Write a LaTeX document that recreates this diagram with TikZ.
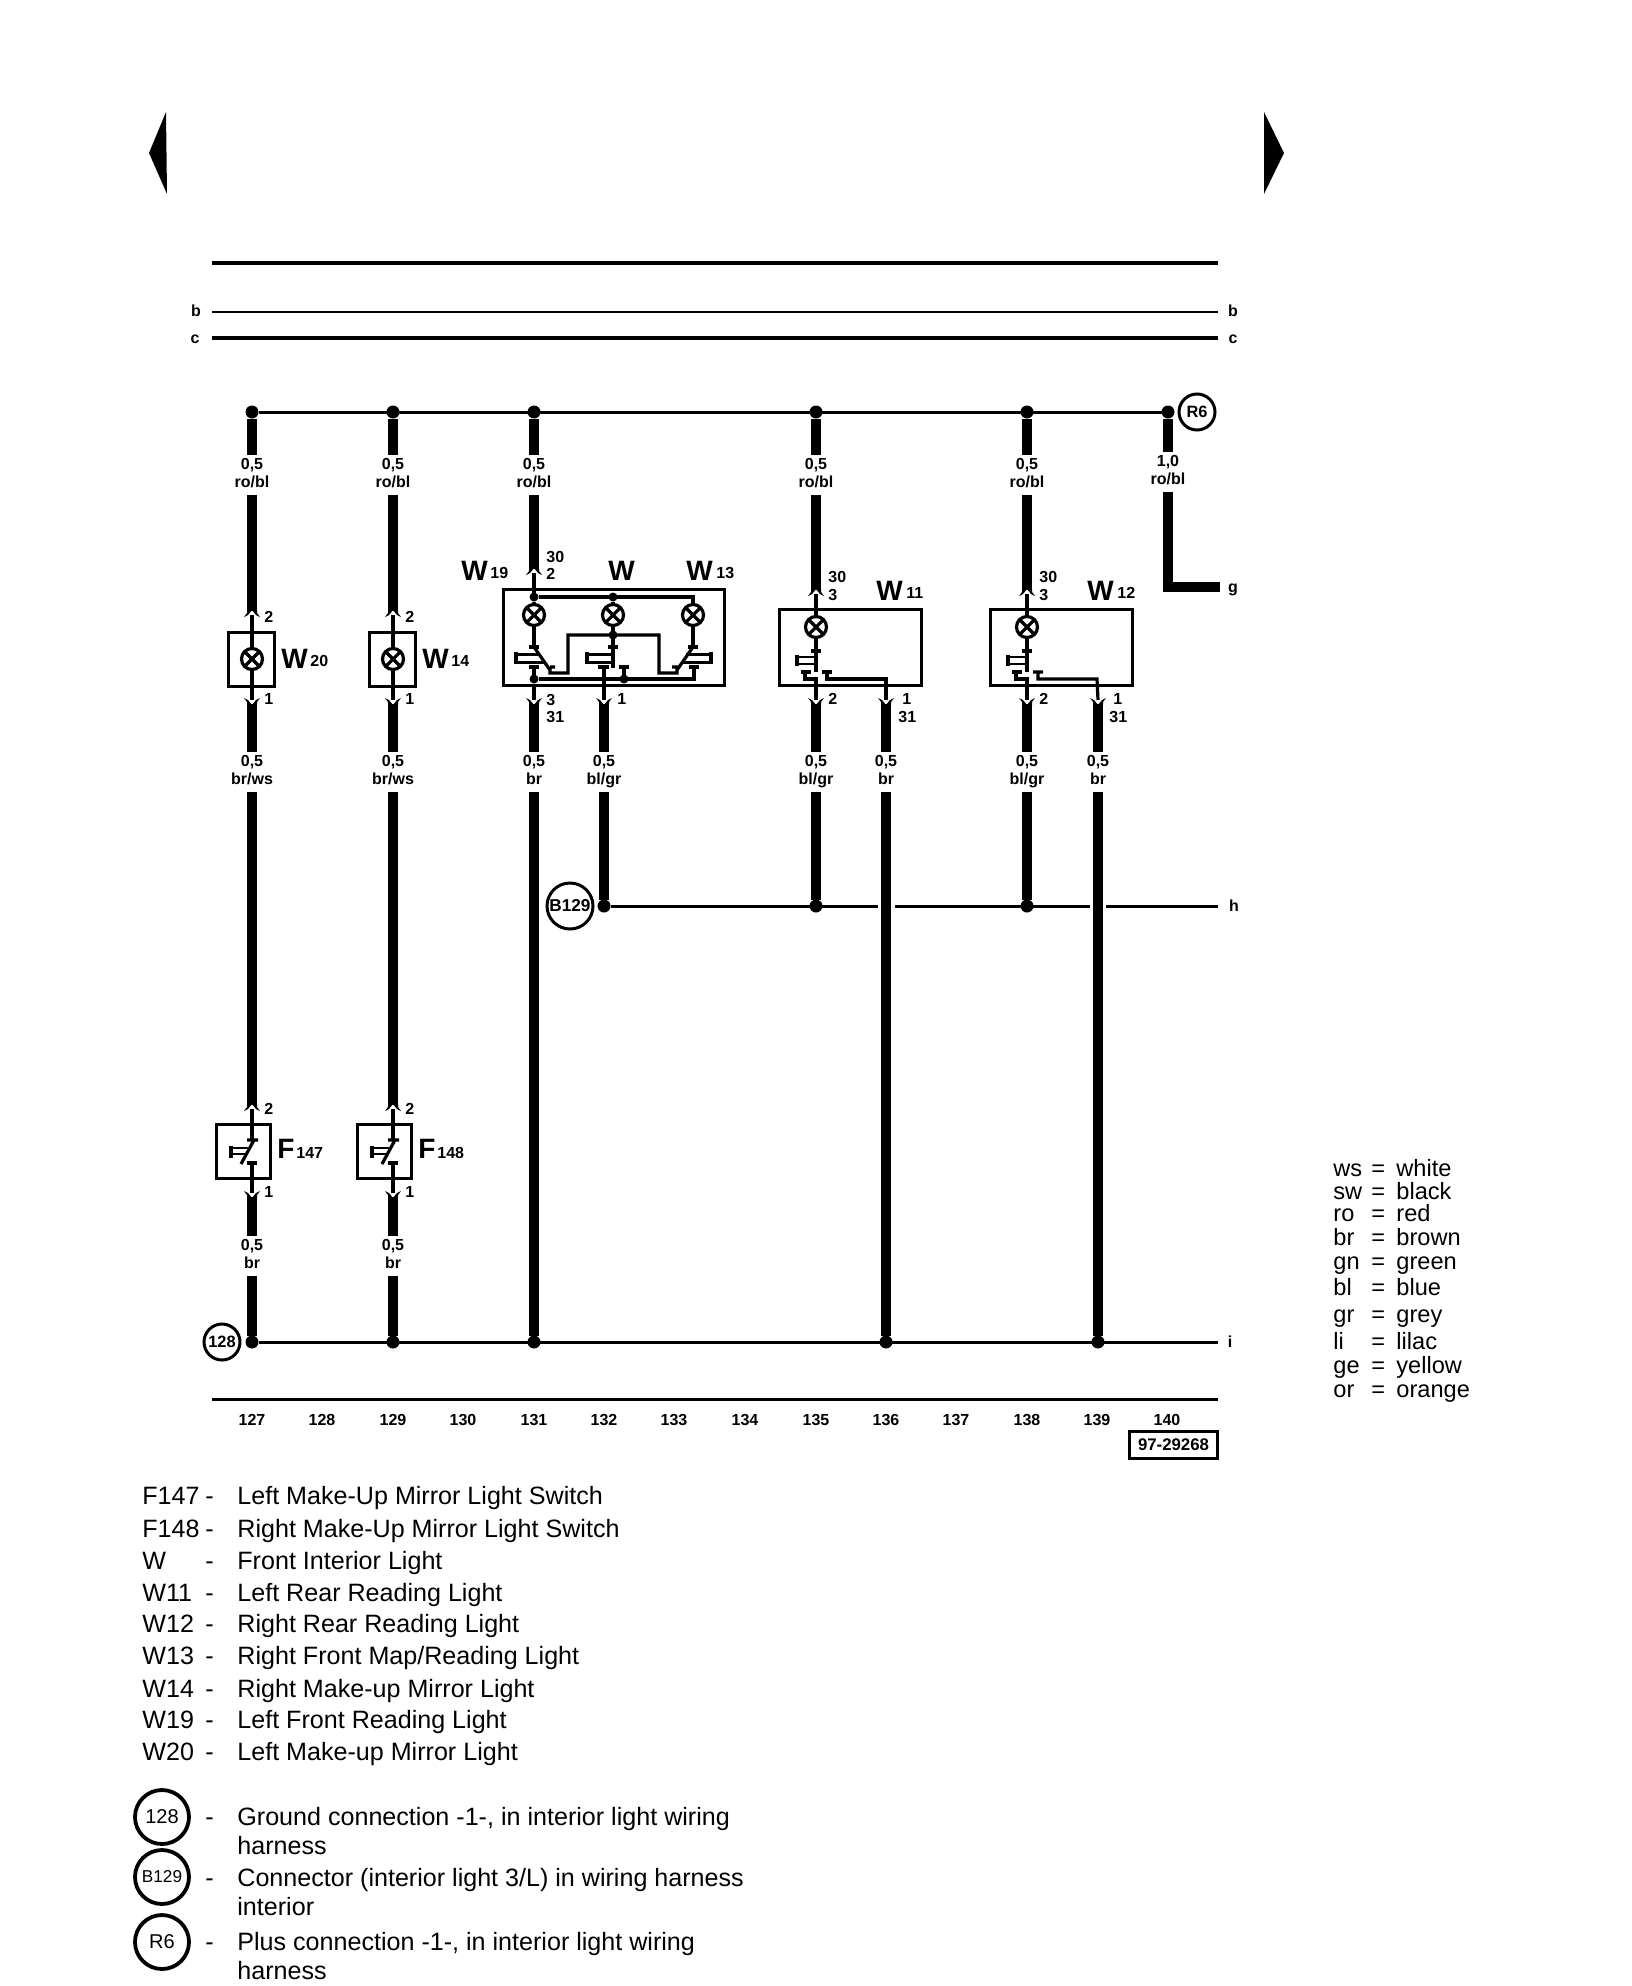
\documentclass[tikz,border=0pt]{standalone}
\usepackage{fontspec}
\setmainfont{Liberation Sans}
\newcommand{\tRB}{ro/bl}
\newcommand{\tBW}{br/ws}
\newcommand{\tBG}{bl/gr}
\newcommand{\tBR}{br}
\newcommand{\plugup}[1]{\begin{scope}[shift={(#1)}]
 \fill (-5,-5)--(5,-5)--(5,-2)--(8,2)--(4,0)--(0,-5)--(-4,0)--(-8,2)--(-5,-2)--cycle;
\end{scope}}
\newcommand{\plugdown}[1]{\begin{scope}[shift={(#1)},yscale=-1]
 \fill (-5,-5)--(5,-5)--(5,-2)--(8,2)--(4,0)--(0,-5)--(-4,0)--(-8,2)--(-5,-2)--cycle;
\end{scope}}
\newcommand{\lampat}[2]{\node[lamp] (#1) at (#2) {};
 \draw[inner] (#1.45)--(#1.225) (#1.135)--(#1.315);}
\tikzset{
 wire/.style={line width=5.2pt},
 bus/.style={line width=1.5pt},
 inner/.style={line width=1.6pt},
 bar/.style={line width=1.1pt},
 box/.style={draw,line width=1.5pt,inner sep=0pt,outer sep=0pt},
 lamp/.style={circle,draw,line width=1.6pt,minimum size=10.5pt,inner sep=0pt,outer sep=0pt},
 bigdot/.style={circle,fill,minimum size=6.5pt,inner sep=0pt,outer sep=0pt},
 smalldot/.style={circle,fill,minimum size=4.5pt,inner sep=0pt,outer sep=0pt},
 wlab/.style={font=\bfseries\fontsize{8}{9}\selectfont,align=center,text width=30pt,minimum height=20pt,inner sep=0pt,outer sep=0pt},
 pin/.style={font=\bfseries\fontsize{8}{9}\selectfont,inner sep=0pt,anchor=base west},
 num/.style={font=\bfseries\fontsize{8}{9}\selectfont,inner sep=0pt,anchor=base},
 comp/.style={font=\bfseries\fontsize{14}{15}\selectfont,inner sep=0pt,anchor=base west},
 subn/.style={font=\bfseries\fontsize{8}{9}\selectfont,inner sep=0pt,anchor=base west},
 txt/.style={font=\fontsize{12.55}{14}\selectfont,inner sep=0pt,anchor=base west},
 ctxt/.style={font=\fontsize{11.8}{14}\selectfont,inner sep=0pt,anchor=base west},
 ringa/.style={circle,draw,line width=1.5pt,minimum size=18pt,inner sep=0pt,outer sep=0pt,font=\bfseries\fontsize{8.2}{9}\selectfont},
 ringb/.style={circle,draw,line width=1.9pt,minimum size=27pt,inner sep=0pt,outer sep=0pt},
}
\begin{document}
\begin{tikzpicture}[x=0.5pt,y=-0.5pt]
\path[use as bounding box,fill=white] (0,0) rectangle (1632,1986);
% page arrows
\fill (166,112)--(149,153)--(167,194)--cycle;
\fill (1264,112)--(1284,153)--(1264,194)--cycle;
% top rails
\coordinate (aL) at (212,263); \coordinate (aR) at (1218,263);
\coordinate (bL) at (212,312); \coordinate (bR) at (1218,312);
\coordinate (cL) at (212,338); \coordinate (cR) at (1218,338);
\draw[line width=2pt] (aL)--(aR);
\draw[line width=1.3pt] (bL)--(bR);
\draw[line width=1.9pt] (cL)--(cR);
\node[num] (lb1) at (196,316) {b};
\node[num] (lb2) at (1233,316) {b};
\node[num] (lc1) at (195,343) {c};
\node[num] (lc2) at (1233,343) {c};
% upper bus and feeds
\foreach \c/\x/\py in {127/252/615,129/393/615,131/534/573,135/816/594,138/1027/594}{
 \node[bigdot] (dt\c) at (\x,412) {};
 \node[wlab] (lt\c) at (\x,474.5) {0,5\\\tRB\vphantom{g}};
 \coordinate (pu\c) at (\x,\py);
 \draw[wire] (dt\c)--(lt\c);
 \draw[wire,shorten >=2pt] (lt\c)--(pu\c);
 \plugup{pu\c}
}
\node[bigdot] (dt140) at (1168,412) {};
\node[wlab] (lt140) at (1168,472) {1,0\\\tRB\vphantom{g}};
\coordinate (g140) at (1220,587);
\coordinate (k140) at (1168,587);
\draw[bus] (dt127)--(dt140);
\draw[wire] (dt140)--(lt140);
\draw[wire,line join=miter] (lt140)--(k140)--(g140);
\node[num] (lg) at (1233,592) {g};
\node[ringa] (R6top) at (1197,412) {R6};
% lower labels and wires
\foreach \c/\x/\t in {127/252/\tBW,129/393/\tBW,131/534/\tBR,132/604/\tBG,135/816/\tBG,136/886/\tBR,138/1027/\tBG,139/1098/\tBR}{
 \node[wlab] (lm\c) at (\x,771.5) {0,5\\\t\vphantom{g}};
 \coordinate (pd\c) at (\x,700);
 \draw[wire,shorten >=2pt] (lm\c)--(pd\c);
 \plugdown{pd\c}
}
% bus h
\node[bigdot] (dh132) at (604,906) {};
\node[bigdot] (dh135) at (816,906) {};
\node[bigdot] (dh138) at (1027,906) {};
\coordinate (g1L) at (878,906); \coordinate (g1R) at (895,906);
\coordinate (g2L) at (1090,906); \coordinate (g2R) at (1106,906);
\coordinate (hR) at (1218,906);
\draw[bus] (dh132)--(g1L) (g1R)--(g2L) (g2R)--(hR);
\foreach \c in {132,135,138}{\draw[wire] (lm\c)--(dh\c);}
\node[ringa,minimum size=23pt,font=\bfseries\fontsize{8.6}{9}\selectfont] (B129top) at (570,906) {B129};
\node[num] (lh) at (1234,911) {h};
% bus i
\node[bigdot] (di127) at (252,1342) {};
\node[bigdot] (di129) at (393,1342) {};
\node[bigdot] (di131) at (534,1342) {};
\node[bigdot] (di136) at (886,1342) {};
\node[bigdot] (di139) at (1098,1342) {};
\coordinate (iR) at (1218,1342);
\draw[bus] (di127)--(iR);
\foreach \c in {131,136,139}{\draw[wire] (lm\c)--(di\c);}
\node[ringa] (g128) at (222,1342) {128};
\node[num] (li) at (1230,1347) {i};
% W20, W14, F147, F148
\foreach \dx/\c/\nm/\wn/\fn in {0/127/W20/20/147,141/129/W14/14/148}{
\begin{scope}[shift={(\dx,0)}]
 \node[box,minimum width=23pt,minimum height=27pt] (\nm) at (251,659) {};
 \lampat{L\nm}{252,659}
 \draw[inner] (pu\c)--(L\nm) (L\nm)--(pd\c);
 \node[pin] (pa\c) at (264,622) {2};
 \node[pin] (pb\c) at (264,704) {1};
 \node[comp] (wn\c) at (281,668) {W};
 \node[subn] (ws\c) at (310,666) {\wn};
 % switch
 \node[box,minimum width=27pt,minimum height=27pt] (F\fn) at (243,1151.5) {};
 \coordinate (fu\c) at (252,1109);
 \coordinate (fd\c) at (252,1193);
 \coordinate (ft\c) at (252,1140);
 \coordinate (fb\c) at (252,1163);
 \node[wlab] (lb\c) at (252,1255.5) {0,5\\br\vphantom{g}};
 \draw[wire,shorten >=2pt] (lm\c)--(fu\c);
 \plugup{fu\c}
 \draw[wire,shorten >=2pt] (lb\c)--(fd\c);
 \plugdown{fd\c}
 \draw[wire] (lb\c)--(di\c);
 \draw[inner] (fu\c)--(ft\c);
 \draw[inner] (247,1140)--(258,1140) (254,1140)--(241,1164);
 \draw[inner] (231,1146)--(231,1158);
 \draw[bar] (231,1148)--(248,1148) (231,1154)--(245,1154);
 \draw[inner] (247,1163)--(257,1163) (fb\c)--(fd\c);
 \node[pin] (pc\c) at (264,1114) {2};
 \node[pin] (pd\c) at (264,1197) {1};
 \node[comp] (fn\c) at (277,1158) {F};
 \node[subn] (fs\c) at (296,1158) {\fn};
\end{scope}
}
% W19 / W / W13 block
\node[box,minimum width=110.5pt,minimum height=48pt] (Wblock) at (613.5,637) {};
\node[smalldot] (j1) at (534,597) {};
\node[smalldot] (j2) at (613,597) {};
\coordinate (j3) at (693,597);
\lampat{L19}{534,615}
\lampat{LW}{613,615}
\lampat{L13}{693,615}
\draw[inner] (pu131)--(j1) (j1)--(L19) (j1)--(j3)--(L13) (j2)--(LW);
% lamp to switches
\node[smalldot] (j4) at (613,635) {};
\draw[inner] (L19)--(534,648) (L13)--(693,648) (LW)--(613,668);
\draw[inner] (529,647)--(539,647) (608,647)--(618,647) (688,647)--(698,647);
\draw[inner] (534,647)--(550,670) (550,667)--(555,667) (550,667)--(550,673)--(568,673)--(568,635)--(659,635)--(659,673)--(677,673)--(677,667)--(672,667) (677,670)--(693,647);
% push bars
\draw[inner] (516,652)--(516,664) (587,652)--(587,664) (711,652)--(711,664);
\draw[bar] (516,654.5)--(540,654.5) (516,662.5)--(546,662.5);
\draw[bar] (587,654.5)--(613,654.5) (587,662.5)--(613,662.5);
\draw[bar] (711,654.5)--(686,654.5) (711,662.5)--(681,662.5);
% bottom contacts
\node[smalldot] (j5) at (534,679) {};
\node[smalldot] (j6) at (624,679) {};
\draw[inner] (529,667)--(539,667) (598,667)--(609,667) (619,667)--(629,667) (689,667)--(699,667);
\draw[inner] (534,667)--(j5) (j5)--(pd131) (j5)--(694,679)--(694,667) (j6)--(624,667) (604,667)--(pd132);
\node[pin] (t30a) at (546,562) {30};
\node[pin] (t2a) at (546,579) {2};
\node[pin] (t3a) at (546,705) {3};
\node[pin] (t31a) at (546,722) {31};
\node[pin] (t1a) at (617,704) {1};
\node[comp] (n19) at (461,580) {W};
\node[subn] (s19) at (490,578) {19};
\node[comp] (nW) at (608,580) {W};
\node[comp] (n13) at (686,580) {W};
\node[subn] (s13) at (716,578) {13};
% W11, W12
\foreach \dx/\ca/\cb/\nm/\wn in {0/135/136/W11/11,211/138/139/W12/12}{
\begin{scope}[shift={(\dx,0)}]
 \node[box,minimum width=71pt,minimum height=38pt] (\nm) at (850,647) {};
 \lampat{L\nm}{816,627}
 \coordinate (kb\ca) at (805,679);
 \coordinate (kc\ca) at (816,679);
 \coordinate (ka\cb) at (827,679);
 \coordinate (ke\cb) at (886,679);
 \draw[inner] (pu\ca)--(L\nm) (L\nm)--(816,672);
 \draw[inner] (811,651)--(821,651);
 \draw[inner] (797,655)--(797,666);
 \draw[bar] (797,657)--(816,657) (797,664)--(816,664);
 \draw[inner] (801,672)--(811,672) (805,672)--(kb\ca)--(kc\ca)--(pd\ca);
 \draw[inner] (822,672)--(832,672) (827,672)--(ka\cb)--(ke\cb)--(pd\cb);
 \node[pin] (u30\ca) at (828,582) {30};
 \node[pin] (u3\ca) at (828,600) {3};
 \node[comp] (n\ca) at (876,600) {W};
 \node[subn] (s\ca) at (906,598) {\wn};
 \node[pin] (v2\ca) at (828,704) {2};
 \node[pin] (v1\ca) at (902,704) {1};
 \node[pin] (v31\ca) at (898,722) {31};
\end{scope}
}
% bottom scale
\coordinate (sL) at (212,1399); \coordinate (sR) at (1218,1399);
\draw[line width=1.5pt] (sL)--(sR);
\foreach \n/\x in {127/252,128/322,129/393,130/463,131/534,132/604,133/674,134/745,135/816,136/886,137/956,138/1027,139/1097,140/1167}{
 \node[num] (col\n) at (\x,1425) {\n};
}
\node[box,minimum width=44pt,minimum height=13.5pt,font=\bfseries\fontsize{8.4}{9}\selectfont] (code) at (1173.5,1444.5) {97-29268};
% colour legend
\foreach \i/\y/\a/\b in {1/1169/ws/white,2/1192/sw/black,3/1214/ro/red,4/1238/br/brown,5/1262/gn/green,6/1288/bl/blue,7/1315/gr/grey,8/1342/li/lilac,9/1366/ge/yellow,10/1390/or/orange}{
 \node[ctxt] (ca\i) at (1333,\y+7) {\a};
 \node[ctxt] (ce\i) at (1371,\y+7) {=};
 \node[ctxt] (cb\i) at (1396,\y+7) {\b};
}
% component list
\foreach \i/\y/\a/\b in {1/1496/F147/Left Make-Up Mirror Light Switch,2/1529/F148/Right Make-Up Mirror Light Switch,3/1561/W/Front Interior Light,4/1593/W11/Left Rear Reading Light,5/1624/W12/Right Rear Reading Light,6/1656/W13/Right Front Map{/}Reading Light,7/1689/W14/Right Make-up Mirror Light,8/1720/W19/Left Front Reading Light,9/1752/W20/Left Make-up Mirror Light}{
 \node[txt] (ka\i) at (142,\y+8) {\a};
 \node[txt] (kd\i) at (205,\y+8) {-};
 \node[txt] (kb\i) at (237,\y+8) {\b};
}
% circled legend
\node[ringb,font=\fontsize{10}{12}\selectfont] (r128) at (162,1817) {128};
\node[ringb,font=\fontsize{8.6}{12}\selectfont] (rB129) at (162,1877) {B129};
\node[ringb,font=\fontsize{10}{12}\selectfont] (rR6) at (162,1942) {R6};
\node[txt] (m1) at (205,1825) {-};
\node[txt] (m2) at (205,1886) {-};
\node[txt] (m3) at (205,1950) {-};
\node[txt] (e1) at (237,1825) {Ground connection -1-, in interior light wiring};
\node[txt] (e1b) at (237,1854) {harness};
\node[txt] (e2) at (237,1886) {Connector (interior light 3/L) in wiring harness};
\node[txt] (e2b) at (237,1915) {interior};
\node[txt] (e3) at (237,1950) {Plus connection -1-, in interior light wiring};
\node[txt] (e3b) at (237,1979) {harness};
\end{tikzpicture}
\end{document}
